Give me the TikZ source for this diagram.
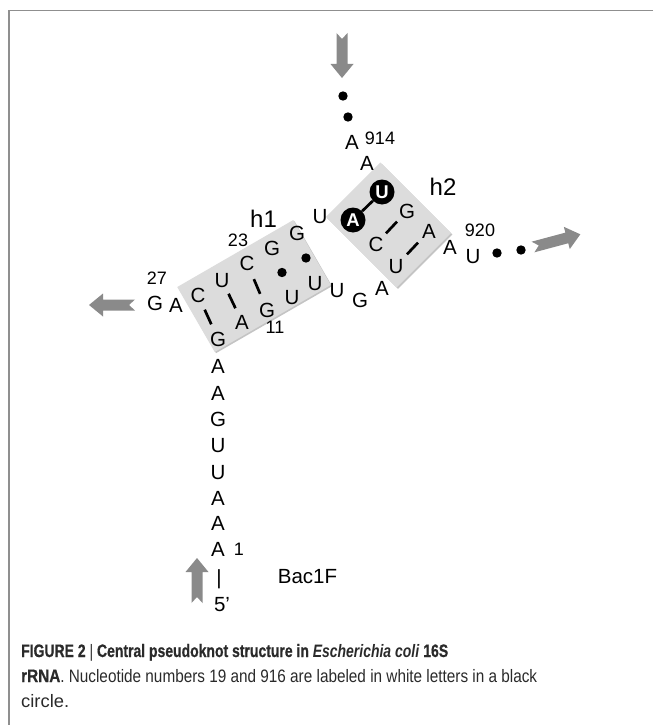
\documentclass[tikz,border=0pt]{standalone}
\usepackage{fontspec}
\usepackage{graphicx}
\setmainfont{Liberation Sans}
\newfontfamily\capfont[BoldFeatures={FakeBold=0.8}]{Liberation Sans}
\usetikzlibrary{calc}
\definecolor{boxgray}{HTML}{DCDCDC}
\definecolor{boxshade}{HTML}{C4C4C4}
\definecolor{arrowgray}{HTML}{8A8A8A}
\definecolor{framegray}{HTML}{8F8F8F}
\definecolor{captext}{HTML}{2A2A2A}
\tikzset{
  nt/.style={font=\fontsize{20.5}{20.5}\selectfont, inner sep=0pt, text height=14.7pt, text depth=0pt},
  num/.style={font=\fontsize{18}{18}\selectfont, inner sep=0pt, text height=12.9pt, text depth=0pt},
  helixlabel/.style={font=\fontsize{24}{24}\selectfont, inner sep=0pt},
  helixbox/.style={fill=boxgray, inner sep=0pt, draw=none},
  helixshade/.style={fill=boxshade, inner sep=0pt, draw=none},
  ntcirc/.style={circle, fill=black, minimum size=25pt, inner sep=0pt, text=white,
    font=\fontsize{18.5}{18.5}\selectfont\bfseries},
  bp/.style={line width=2.7pt, line cap=butt},
  bigarrow/.style={fill=arrowgray, draw=none},
  captionline/.style={anchor=base west, inner sep=0pt, text=captext, font=\capfont\fontsize{18}{18}\selectfont},
}
% Watson-Crick pair: short bar centred between the two bases
\newcommand\wcpair[2]{%
  \path (#1.center) -- (#2.center) coordinate[midway] (m-#1-#2);
  \draw[bp] ($(m-#1-#2)!8pt!(#1.center)$) -- ($(m-#1-#2)!8pt!(#2.center)$);}
% G-U wobble pair: dot centred between the two bases
\newcommand\gupair[2]{%
  \path (#1.center) -- (#2.center) coordinate[midway] (m-#1-#2);
  \fill (m-#1-#2) circle (4.7pt);}
% thick grey arrow with a notched tail: tail point, direction, length
\newcommand\fatarrow[3]{%
  \fill[bigarrow, shift={#1}, rotate=#2]
    (0,5.5) -- (#3-14,5.5) -- (#3-14,11.5) -- (#3,0) -- (#3-14,-11.5)
    -- (#3-14,-5.5) -- (0,-5.5) -- (6,0) -- cycle;}
\begin{document}
\begin{tikzpicture}[x=1pt,y=-1pt]
\useasboundingbox (0,0) rectangle (654,725);

% frame
\draw[framegray, line width=1.5pt] (653,10.5) -- (9,10.5) -- (9,725);

% helix boxes
\node[helixshade, rotate=30, minimum width=134pt, minimum height=75pt] at (255.3,287.2) {};
\node[helixbox, rotate=30, minimum width=134pt, minimum height=75pt] (box1) at (254,286) {};
\node[helixshade, rotate=-45, minimum width=100pt, minimum height=77pt] at (389.8,226.3) {};
\node[helixbox, rotate=-45, minimum width=100pt, minimum height=77pt] (box2) at (388.5,225) {};

\node[helixlabel] (h1) at (263.5,218.5) {h1};
\node[helixlabel] (h2) at (443,187) {h2};

% 5' single strand
\node[nt] (five) at (222,604.5) {5’};
\node[nt, text height=13pt] (tick) at (219,578) {|};
\node[nt] (A1) at (218,549) {A};
\node[nt] (A2) at (218,523) {A};
\node[nt] (A3) at (218,498) {A};
\node[nt] (U4) at (218,472) {U};
\node[nt] (U5) at (218,445) {U};
\node[nt] (G6) at (218,419) {G};
\node[nt] (A7) at (218,393) {A};
\node[nt] (A8) at (218,366) {A};

% helix h1, 5' strand
\node[nt] (G9)  at (218,339) {G};
\node[nt] (A10) at (242,322) {A};
\node[nt] (G11) at (267,310) {G};
\node[nt] (U12) at (292,297) {U};
\node[nt] (U13) at (315,283) {U};
\node[nt] (U14) at (337,290) {U};
\node[nt] (G15) at (360,300) {G};
\node[nt] (A16) at (382,288) {A};
\node[nt] (U17) at (396,266) {U};
\node[nt] (C18) at (376,244) {C};
\node[ntcirc] (A19) at (353,220) {A};
\node[nt] (U20) at (320,216) {U};
% helix h1, 3' strand
\node[nt] (G21) at (297,233) {G};
\node[nt] (G22) at (272,248) {G};
\node[nt] (C23) at (247,263) {C};
\node[nt] (U24) at (222,280) {U};
\node[nt] (C25) at (198,295) {C};
\node[nt] (A26) at (176,305) {A};
\node[nt] (G27) at (155,303) {G};

% 900 region
\node[nt] (A914) at (352,142) {A};
\node[nt] (A915) at (367,163) {A};
\node[ntcirc] (U916) at (382,192) {U};
\node[nt] (G917) at (407,211) {G};
\node[nt] (A918) at (429,231) {A};
\node[nt] (A919) at (450,247) {A};
\node[nt] (U920) at (473,256) {U};

% position numbers
\node[num] (n1)   at (239,549) {1};
\node[num] (n11)  at (275,327) {11};
\node[num] (n23)  at (238,240) {23};
\node[num] (n27)  at (157,278) {27};
\node[num] (n914) at (380,138) {914};
\node[num] (n920) at (480,230) {920};

% base pairs
\wcpair{C25}{G9}
\wcpair{U24}{A10}
\wcpair{C23}{G11}
\gupair{G22}{U12}
\gupair{G21}{U13}
\wcpair{G917}{C18}
\wcpair{A918}{U17}
\draw[bp] (A19) -- (U916);

% omitted chain
\coordinate (d1) at (343,96);
\coordinate (d2) at (348,117);
\coordinate (d3) at (497,253);
\coordinate (d4) at (521,250);
\foreach \d in {d1,d2,d3,d4} \fill (\d) circle (4.7pt);

% strand direction arrows
\fatarrow{(342,33)}{-90}{45}
\fatarrow{(135,305)}{180}{46}
\fatarrow{(533,247)}{15}{49}
\fatarrow{(197,603)}{90}{45}

\node[nt] (primer) at (307.5,576.5) {Bac1F};

% caption
\node[captionline] (cap1) at (21,657) {\resizebox{427pt}{\height}{\textbf{FIGURE 2} | \textbf{Central pseudoknot structure in \textit{Escherichia coli} 16S}}};
\node[captionline] (cap2) at (21,682) {\resizebox{516pt}{\height}{\textbf{rRNA}. Nucleotide numbers 19 and 916 are labeled in white letters in a black}};
\node[captionline] (cap3) at (21,707) {\resizebox{48pt}{\height}{circle.}};
\end{tikzpicture}
\end{document}
